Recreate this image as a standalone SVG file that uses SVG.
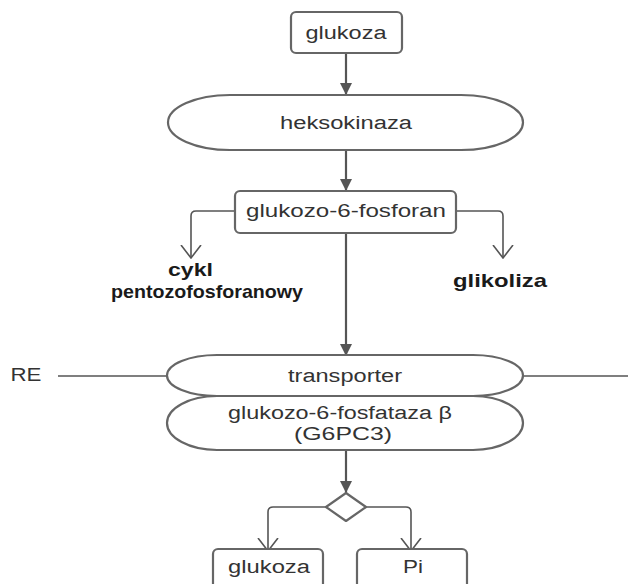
<svg xmlns="http://www.w3.org/2000/svg" width="628" height="584" viewBox="0 0 628 584">
<defs>
<style>
.box{fill:#fff;stroke:#666;stroke-width:2.2}
.oval{fill:#fff;stroke:#666;stroke-width:2.2}
.t{font-family:"Liberation Sans",Arial,sans-serif;font-size:18px;fill:#333;text-anchor:middle}
.b{font-family:"Liberation Sans",Arial,sans-serif;font-size:19px;font-weight:bold;fill:#1a1a1a}
.ln{fill:none;stroke:#555;stroke-width:2.2}
.op{fill:none;stroke:#555;stroke-width:1.6}
.thin{fill:none;stroke:#555;stroke-width:1.3}
</style>
<marker id="fa" viewBox="0 0 12 12" refX="12" refY="6" markerWidth="12" markerHeight="12" markerUnits="userSpaceOnUse" orient="auto">
<path d="M0,0 L12,6 L0,12 Z" fill="#555"/>
</marker>
<marker id="oa" viewBox="0 0 14 22" refX="13" refY="11" markerWidth="14" markerHeight="22" markerUnits="userSpaceOnUse" orient="auto">
<path d="M0,1 L13,11 L0,21" fill="none" stroke="#555" stroke-width="1.6"/>
</marker>
</defs>

<g id="connectors">
<line class="ln" x1="346" y1="53" x2="346" y2="95" marker-end="url(#fa)"/>
<line class="ln" x1="346" y1="150" x2="346" y2="191" marker-end="url(#fa)"/>
<line class="ln" x1="346" y1="233" x2="346" y2="356" marker-end="url(#fa)"/>
<line class="ln" x1="346" y1="450" x2="346" y2="493" marker-end="url(#fa)"/>
<path class="op" d="M235,211 H196 Q191,211 191,216 V258" marker-end="url(#oa)"/>
<path class="op" d="M456,211 H498 Q503,211 503,216 V258" marker-end="url(#oa)"/>
<path class="op" d="M326,507 H273 Q268,507 268,512 V551" marker-end="url(#oa)"/>
<path class="op" d="M366,507 H406 Q411,507 411,512 V551" marker-end="url(#oa)"/>
<line class="thin" x1="58" y1="376" x2="167" y2="376"/>
<line class="thin" x1="523" y1="376" x2="628" y2="376"/>
</g>

<g id="glukoza-top">
<rect class="box" x="291" y="12" width="111" height="41" rx="5"/>
<text class="t" x="346" y="39" textLength="81" lengthAdjust="spacingAndGlyphs">glukoza</text>
</g>

<g id="heksokinaza">
<rect class="oval" x="168" y="95" width="355" height="55" rx="62" ry="27.5"/>
<text class="t" x="346" y="129" textLength="132" lengthAdjust="spacingAndGlyphs">heksokinaza</text>
</g>

<g id="g6p">
<rect class="box" x="235" y="191" width="221" height="42" rx="5"/>
<text class="t" x="346" y="217" textLength="200" lengthAdjust="spacingAndGlyphs">glukozo-6-fosforan</text>
</g>

<g id="pentozo">
<text class="b" x="168" y="276" textLength="45" lengthAdjust="spacingAndGlyphs">cykl</text>
<text class="b" x="111" y="298" textLength="192" lengthAdjust="spacingAndGlyphs">pentozofosforanowy</text>
</g>

<g id="glikoliza">
<text class="b" x="453" y="287" textLength="94" lengthAdjust="spacingAndGlyphs">glikoliza</text>
</g>

<g id="RE">
<text class="t" x="26" y="381" textLength="31" lengthAdjust="spacingAndGlyphs">RE</text>
</g>

<g id="transporter">
<rect class="oval" x="167" y="355" width="356" height="41" rx="50" ry="20.5"/>
<text class="t" x="345" y="382" textLength="114" lengthAdjust="spacingAndGlyphs">transporter</text>
</g>

<g id="g6pc3">
<rect class="oval" x="167" y="396" width="356" height="54" rx="50" ry="27"/>
<text class="t" x="340" y="419" textLength="224" lengthAdjust="spacingAndGlyphs">glukozo-6-fosfataza β</text>
<text class="t" x="343" y="440" textLength="98" lengthAdjust="spacingAndGlyphs">(G6PC3)</text>
</g>

<g id="decision">
<path class="box" d="M346,493 L366,507 L346,521 L326,507 Z" stroke-linejoin="round"/>
</g>

<g id="glukoza-bottom">
<rect class="box" x="213" y="549" width="110" height="45" rx="5"/>
<text class="t" x="269" y="573" textLength="82" lengthAdjust="spacingAndGlyphs">glukoza</text>
</g>

<g id="Pi">
<rect class="box" x="357" y="549" width="110" height="45" rx="5"/>
<text class="t" x="413" y="573" textLength="20" lengthAdjust="spacingAndGlyphs">Pi</text>
</g>
</svg>
